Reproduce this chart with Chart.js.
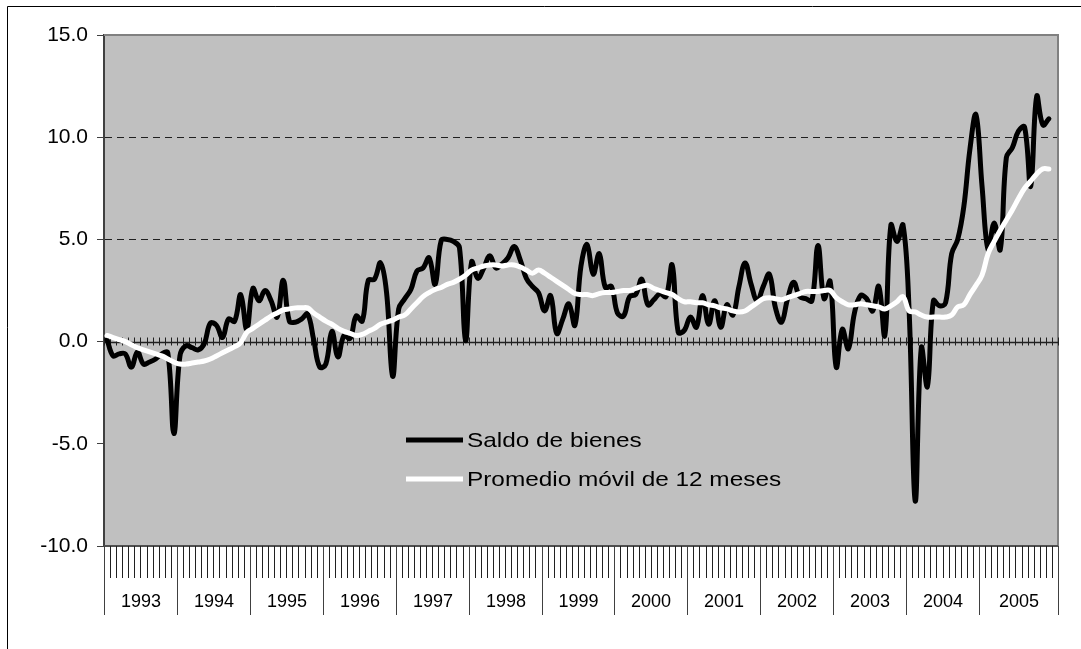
<!DOCTYPE html>
<html lang="es">
<head>
<meta charset="utf-8">
<title>Saldo de bienes</title>
<script src="https://cdn.jsdelivr.net/npm/chart.js@4.4.1/dist/chart.umd.min.js"></script>
<style>
  html, body { margin: 0; padding: 0; background: #fff; }
  canvas { display: block; }
</style>
</head>
<body>
<canvas id="saldoChart" width="1081" height="649"></canvas>
<script>
// Años del eje y cuántos meses abarca cada uno (el último grupo tiene una casilla extra)
const years = ['1993', '1994', '1995', '1996', '1997', '1998', '1999', '2000', '2001', '2002', '2003', '2004', '2005'];
const monthsInYear = [12, 12, 12, 12, 12, 12, 12, 12, 12, 12, 12, 12, 13];

// Saldo mensual de bienes
const saldo = [
  0.1, -0.7, -0.6, -0.6, -1.25, -0.5, -1.1, -1.0, -0.85, -0.6, -0.55, -4.5,
  -0.7, -0.2, -0.3, -0.4, -0.1, 0.9, 0.8, 0.2, 1.1, 1.0, 2.3, 0.6,
  2.6, 2.0, 2.5, 2.0, 1.2, 3.0, 1.0, 0.95, 1.1, 1.35, 0.1, -1.25,
  -1.1, 0.5, -0.75, 0.3, 0.15, 1.25, 1.0, 3.0, 3.05, 3.85, 2.4, -1.7,
  1.6, 2.1, 2.55, 3.45, 3.6, 4.1, 2.8, 4.95, 5.0, 4.9, 4.6, 0.05,
  3.9, 3.1, 3.6, 4.2, 3.6, 3.8, 4.1, 4.65, 4.0, 3.1, 2.7, 2.4,
  1.5, 2.25, 0.4, 1.1, 1.85, 0.8, 3.7, 4.75, 3.3, 4.3, 2.65, 2.7,
  1.4, 1.25, 2.2, 2.3, 3.05, 1.8, 2.05, 2.35, 2.2, 3.75, 0.45, 0.55,
  1.2, 0.7, 2.25, 0.85, 2.0, 0.7, 1.8, 1.3, 2.7, 3.85, 2.8, 2.0,
  2.7, 3.3, 1.65, 0.95, 2.1, 2.9, 2.2, 2.1, 2.0, 4.7, 2.1, 2.95,
  -1.25, 0.6, -0.35, 1.4, 2.25, 2.1, 1.5, 2.7, 0.3, 5.7, 4.9, 5.7,
  1.5, -7.8, -0.3, -2.2, 2.0, 1.75, 1.9, 4.3, 5.0, 6.6, 9.4, 11.1,
  7.6, 4.5, 5.8, 4.5, 9.0, 9.5, 10.3, 10.5, 7.6, 12.0, 10.6, 10.9
];

// Promedio móvil de 12 meses
const promedio = [
  0.3, 0.2, 0.1, 0.0, -0.15, -0.3, -0.4, -0.5, -0.6, -0.7, -0.85, -1.0,
  -1.1, -1.1, -1.05, -1.0, -0.95, -0.85, -0.7, -0.55, -0.4, -0.25, -0.05, 0.45,
  0.65, 0.85, 1.05, 1.25, 1.4, 1.55, 1.6, 1.65, 1.65, 1.65, 1.4, 1.2,
  1.0, 0.85, 0.65, 0.5, 0.4, 0.3, 0.35, 0.5, 0.65, 0.85, 0.95, 1.05,
  1.2, 1.3, 1.6, 1.9, 2.2, 2.4, 2.55, 2.65, 2.8, 2.9, 3.05, 3.25,
  3.5, 3.6, 3.7, 3.75, 3.75, 3.7, 3.75, 3.75, 3.65, 3.5, 3.35, 3.5,
  3.35, 3.15, 2.95, 2.75, 2.55, 2.35, 2.3, 2.3, 2.25, 2.35, 2.4, 2.4,
  2.45, 2.5, 2.5, 2.6, 2.7, 2.75, 2.6, 2.5, 2.4, 2.3, 2.1, 1.95,
  1.95, 1.9, 1.9, 1.8, 1.75, 1.65, 1.6, 1.5, 1.45, 1.5, 1.7, 1.9,
  2.1, 2.15, 2.1, 2.05, 2.15, 2.25, 2.35, 2.45, 2.45, 2.45, 2.5, 2.5,
  2.15, 1.95, 1.8, 1.8, 1.85, 1.8, 1.75, 1.7, 1.6, 1.75, 1.95, 2.2,
  1.5, 1.45, 1.3, 1.2, 1.2, 1.2, 1.2, 1.3, 1.7, 1.8, 2.3, 2.75,
  3.25, 4.3, 4.9, 5.45, 5.95, 6.45, 7.0, 7.5, 7.85, 8.2, 8.45, 8.45
];

const yMin = -10;
const yMax = 15;
const yStep = 5;
const gridValues = [5, 10];

const FONT = "'Liberation Sans', Arial, sans-serif";

// una categoría por mes
const labels = [];
years.forEach((yr, k) => {
  for (let m = 1; m <= monthsInYear[k]; m++) labels.push(yr + '-' + m);
});

// fondo gris del área de trazado y marco exterior
const plotBackground = {
  id: 'plotBackground',
  beforeDraw(chart) {
    const { ctx, chartArea: a } = chart;
    ctx.save();
    ctx.fillStyle = '#c0c0c0';
    ctx.fillRect(a.left, a.top, a.right - a.left, a.bottom - a.top);
    ctx.strokeStyle = '#000';
    ctx.lineWidth = 1;
    ctx.beginPath();
    ctx.moveTo(7.5, chart.height);
    ctx.lineTo(7.5, 6.5);
    ctx.lineTo(chart.width, 6.5);
    ctx.stroke();
    ctx.restore();
  }
};

// eje de categorías en cero, marcas mensuales y rótulos de año abajo
const categoryAxis = {
  id: 'categoryAxis',
  beforeDatasetsDraw(chart) {
    const { ctx, chartArea: a, scales: { x, y } } = chart;
    const n = chart.data.labels.length;
    const step = x.getPixelForValue(1) - x.getPixelForValue(0);
    const edge = i => x.getPixelForValue(i) - step / 2;
    ctx.save();

    // borde del área de trazado
    ctx.strokeStyle = '#808080';
    ctx.lineWidth = 2;
    ctx.beginPath();
    ctx.moveTo(a.left, a.top);
    ctx.lineTo(a.right, a.top);
    ctx.lineTo(a.right, a.bottom);
    ctx.stroke();
    ctx.strokeStyle = '#505050';
    ctx.beginPath();
    ctx.moveTo(a.left, a.bottom);
    ctx.lineTo(a.right, a.bottom);
    ctx.stroke();

    // línea del cero con marcas cruzadas
    const y0 = Math.round(y.getPixelForValue(0)) + 0.5;
    ctx.strokeStyle = '#202020';
    ctx.lineWidth = 1.5;
    ctx.beginPath();
    ctx.moveTo(a.left, y0);
    ctx.lineTo(a.right, y0);
    ctx.stroke();
    ctx.lineWidth = 1;
    ctx.beginPath();
    for (let i = 0; i <= n; i++) {
      const px = Math.round(edge(i)) + 0.5;
      ctx.moveTo(px, y0 - 5);
      ctx.lineTo(px, y0 + 3);
    }
    ctx.stroke();

    // marcas mensuales bajo el área
    ctx.strokeStyle = '#202020';
    ctx.beginPath();
    for (let i = 0; i <= n; i++) {
      const px = Math.round(edge(i)) + 0.5;
      ctx.moveTo(px, a.bottom);
      ctx.lineTo(px, a.bottom + 32);
    }
    ctx.stroke();

    // separadores y rótulos de año
    ctx.strokeStyle = '#404040';
    ctx.fillStyle = '#000';
    ctx.font = '18px ' + FONT;
    ctx.textAlign = 'center';
    ctx.textBaseline = 'middle';
    let start = 0;
    ctx.beginPath();
    years.forEach((yr, k) => {
      const end = start + monthsInYear[k];
      const x1 = Math.round(edge(start)) + 0.5;
      const x2 = Math.round(edge(end)) + 0.5;
      ctx.moveTo(x1, a.bottom);
      ctx.lineTo(x1, a.bottom + 69);
      if (k === years.length - 1) {
        ctx.moveTo(x2, a.bottom);
        ctx.lineTo(x2, a.bottom + 69);
      }
      ctx.fillText(yr, (x1 + x2) / 2, a.bottom + 56);
      start = end;
    });
    ctx.stroke();
    ctx.restore();
  }
};

// leyenda dentro del área de trazado
const insideLegend = {
  id: 'insideLegend',
  afterDatasetsDraw(chart) {
    const { ctx, chartArea: a } = chart;
    const left = a.left + 288;
    const top = a.top + 383;
    ctx.save();
    ctx.fillStyle = '#c0c0c0';
    ctx.fillRect(left, top, 403, 84);
    ctx.font = '21px ' + FONT;
    ctx.textBaseline = 'middle';
    ctx.textAlign = 'left';
    chart.data.datasets.forEach((ds, k) => {
      const yy = top + 22 + k * 39;
      ctx.strokeStyle = ds.borderColor;
      ctx.lineWidth = 5;
      ctx.beginPath();
      ctx.moveTo(left + 14, yy);
      ctx.lineTo(left + 71, yy);
      ctx.stroke();
      ctx.save();
      ctx.translate(left + 75, yy + 1);
      ctx.scale(1.16, 1);
      ctx.fillStyle = '#000';
      ctx.fillText(ds.label, 0, 0);
      ctx.restore();
    });
    ctx.restore();
  }
};

new Chart(document.getElementById('saldoChart'), {
  type: 'line',
  data: {
    labels: labels,
    datasets: [
      {
        label: 'Saldo de bienes',
        data: saldo,
        borderColor: '#000000',
        borderWidth: 5,
        pointRadius: 0,
        tension: 0.4,
        borderJoinStyle: 'round',
        borderCapStyle: 'round',
        order: 1
      },
      {
        label: 'Promedio móvil de 12 meses',
        data: promedio,
        borderColor: '#ffffff',
        borderWidth: 5,
        pointRadius: 0,
        tension: 0.4,
        borderJoinStyle: 'round',
        borderCapStyle: 'round',
        order: 0
      }
    ]
  },
  options: {
    responsive: false,
    devicePixelRatio: 1,
    animation: false,
    layout: { padding: { left: 0, top: 35, right: 23, bottom: 0 } },
    plugins: {
      legend: { display: false },
      tooltip: { enabled: false }
    },
    scales: {
      x: {
        type: 'category',
        offset: true,
        grid: { display: false },
        border: { display: false },
        ticks: { display: false },
        afterFit: s => { s.height = 103; }
      },
      y: {
        min: yMin,
        max: yMax,
        afterFit: s => { s.width = 104; },
        ticks: {
          stepSize: yStep,
          padding: 9,
          color: '#000',
          font: { family: FONT, size: 21 },
          callback: v => Number(v).toFixed(1)
        },
        grid: {
          color: c => gridValues.includes(c.tick.value) ? '#202020' : 'rgba(0,0,0,0)',
          tickColor: '#404040',
          tickLength: 7,
          lineWidth: 1
        },
        border: { display: true, color: '#404040', width: 2, dash: [7, 5] }
      }
    }
  },
  plugins: [plotBackground, categoryAxis, insideLegend]
});
</script>
</body>
</html>
